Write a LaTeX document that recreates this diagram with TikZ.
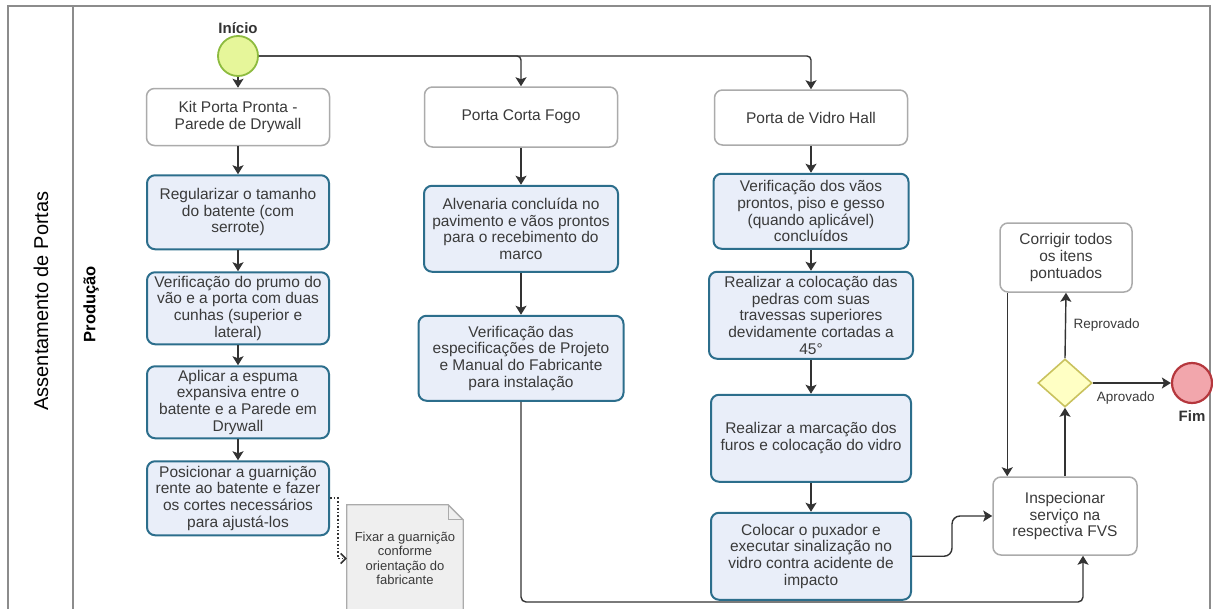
\documentclass[tikz,border=0pt]{standalone}
\usepackage{fontspec}
\setmainfont{Liberation Sans}
\usepackage{xcolor}
\usepackage{tikz}
\usetikzlibrary{arrows.meta,calc,positioning,shapes.geometric}
\definecolor{lanegray}{HTML}{8C8C8C}
\definecolor{flowgray}{HTML}{333333}
\definecolor{textgray}{HTML}{3A3A3A}
\definecolor{boxgray}{HTML}{ABABAB}
\definecolor{actblue}{HTML}{2C6E8C}
\definecolor{actfill}{HTML}{E9EEF9}
\definecolor{startline}{HTML}{8DBB3F}
\definecolor{startfill}{HTML}{E6F69A}
\definecolor{endline}{HTML}{B5373D}
\definecolor{endfill}{HTML}{F2A6AC}
\definecolor{gwline}{HTML}{C9C25E}
\definecolor{gwfill}{HTML}{FFFFC4}
\definecolor{notefill}{HTML}{EFEFEF}
\tikzset{
  flow/.style={-{Stealth[length=9pt,width=11pt,inset=2pt]},line width=1.4pt,draw=flowgray},
  assoc/.style={-{Straight Barb[length=5pt,width=10pt]},line width=1.6pt,dotted,draw=flowgray},
  laneline/.style={line width=1.5pt,draw=lanegray},
  bpmnnode/.style={draw,line width=1.5pt,rounded corners=8pt,align=center,
    inner sep=3pt,font=\fontsize{15.5}{16.7}\selectfont,text=textgray},
  doortype/.style={bpmnnode,draw=boxgray,fill=white},
  activity/.style={bpmnnode,draw=actblue,fill=actfill,line width=2pt},
  event/.style={circle,minimum size=40pt,inner sep=0pt,line width=1.8pt},
  startevent/.style={event,draw=startline,fill=startfill},
  endevent/.style={event,draw=endline,fill=endfill,line width=2.2pt},
  gateway/.style={diamond,draw=gwline,fill=gwfill,line width=1.6pt,
    minimum width=54pt,minimum height=48pt,inner sep=0pt},
  eventlabel/.style={font=\bfseries\fontsize{15}{16}\selectfont,text=flowgray},
  flowlabel/.style={font=\fontsize{13.5}{15}\selectfont,text=textgray},
  notesheet/.style={minimum width=116pt,minimum height=107pt,inner sep=0pt},
  notetext/.style={align=center,font=\fontsize{13}{14.4}\selectfont,text=textgray},
  pooltitle/.style={rotate=90,font=\fontsize{20}{21}\selectfont,text=black},
  lanetitle/.style={rotate=90,font=\bfseries\fontsize{16.5}{18}\selectfont,text=black}
}
\begin{document}
\begin{tikzpicture}[x=1pt,y=-1pt,node distance=21pt]
  \useasboundingbox (0,0) rectangle (1213,608);
  \draw[laneline] (8,612) -- (8,6) -- (1210,6) -- (1210,612);
  \draw[laneline] (73,6) -- (73,612);
  \node[pooltitle] (pool) at (41,301) {Assentamento de Portas};
  \node[lanetitle] (lane) at (91,304) {Produção};

  \node[startevent] (start) at (238,56) {};
  \node[eventlabel,above=-2pt of start] (startlbl) {Início};

  \node[doortype,minimum width=183pt,minimum height=57pt] (kit) at (238,117) {Kit Porta Pronta -\\Parede de Drywall};
  \node[activity,minimum width=182pt,minimum height=74pt,below=28pt of kit] (batente) {Regularizar o tamanho\\do batente (com\\serrote)};
  \node[activity,minimum width=182pt,minimum height=72pt,below=of batente] (prumo) {Verificação do prumo do\\vão e a porta com duas\\cunhas (superior e\\lateral)};
  \node[activity,minimum width=182pt,minimum height=72pt,below=20pt of prumo] (espuma) {Aplicar a espuma\\expansiva entre o\\batente e a Parede em\\Drywall};
  \node[activity,minimum width=182pt,minimum height=74pt,below=of espuma] (guarnicao) {Posicionar a guarnição\\rente ao batente e fazer\\os cortes necessários\\para ajustá-los};
  \node[notesheet] (nota) at (405,558.5) {};

  \node[doortype,minimum width=193pt,minimum height=60pt] (cortafogo) at (521,117) {Porta Corta Fogo};
  \node[activity,minimum width=194pt,minimum height=86pt,below=37pt of cortafogo] (alvenaria) {Alvenaria concluída no\\pavimento e vãos prontos\\para o recebimento do\\marco};
  \node[activity,minimum width=205pt,minimum height=85pt,below=42pt of alvenaria] (especif) {Verificação das\\especificações de Projeto\\e Manual do Fabricante\\para instalação};

  \node[doortype,minimum width=193pt,minimum height=55pt] (vidro) at (811,117.5) {Porta de Vidro Hall};
  \node[activity,minimum width=195pt,minimum height=75pt,below=27pt of vidro] (vaos) {Verificação dos vãos\\prontos, piso e gesso\\(quando aplicável)\\concluídos};
  \node[activity,minimum width=204pt,minimum height=87pt,below=of vaos] (pedras) {Realizar a colocação das\\pedras com suas\\travessas superiores\\devidamente cortadas a\\45°};
  \node[activity,minimum width=200pt,minimum height=87pt,below=34pt of pedras] (marcacao) {Realizar a marcação dos\\furos e colocação do vidro};
  \node[activity,minimum width=200pt,minimum height=87pt,below=29pt of marcacao] (puxador) {Colocar o puxador e\\executar sinalização no\\vidro contra acidente de\\impacto};

  \node[doortype,minimum width=144pt,minimum height=78pt] (inspecao) at (1065,516) {Inspecionar\\serviço na\\respectiva FVS};
  \node[gateway] (decisao) at (1065,383) {};
  \node[doortype,minimum width=132pt,minimum height=69pt] (corrigir) at (1066,257.5) {Corrigir todos\\os itens\\pontuados};
  \node[endevent] (fim) at (1192,383) {};
  \node[eventlabel,below=3pt of fim] (fimlbl) {Fim};

  \draw[notefill,fill=notefill] (nota.north west) -- ($(nota.north east)+(-15pt,0pt)$) -- ($(nota.north east)+(0pt,-15pt)$) -- (nota.south east) -- (nota.south west) -- cycle;
  \draw[boxgray,line width=1.3pt] (nota.south west) -- (nota.north west) -- ($(nota.north east)+(-15pt,0pt)$) -- ($(nota.north east)+(0pt,-15pt)$) -- (nota.south east);
  \draw[boxgray,line width=1.3pt] ($(nota.north east)+(-15pt,0pt)$) -- ($(nota.north east)+(-15pt,-15pt)$) -- ($(nota.north east)+(0pt,-15pt)$);
  \node[notetext] (notatexto) at (nota) {Fixar a guarnição\\conforme\\orientação do\\fabricante};

  \draw[flow] (start.south) -- (kit.north);
  \draw[flow,rounded corners=4pt] (start.east) -| (cortafogo.north);
  \draw[flow,rounded corners=4pt] (start.east) -| (vidro.north);
  \draw[flow] (kit.south) -- (batente.north);
  \draw[flow] (batente.south) -- (prumo.north);
  \draw[flow] (prumo.south) -- (espuma.north);
  \draw[flow] (espuma.south) -- (guarnicao.north);
  \draw[assoc] (guarnicao.east) -- ++(8,0) |- (nota.west);

  \draw[flow] (cortafogo.south) -- (alvenaria.north);
  \draw[flow] (alvenaria.south) -- (especif.north);
  \coordinate (retorno) at (1083,602);
  \draw[flow,rounded corners=5pt] (especif.south) |- (retorno) -- (retorno |- inspecao.south);

  \draw[flow] (vidro.south) -- (vaos.north);
  \draw[flow] (vaos.south) -- (pedras.north);
  \draw[flow] (pedras.south) -- (marcacao.north);
  \draw[flow] (marcacao.south) -- (puxador.north);
  \draw[flow,rounded corners=8pt] (puxador.east) -- ++(40,0) |- (inspecao.west);

  \draw[flow] (inspecao.north) -- (decisao.south);
  \draw[flow] (decisao.north) -- (corrigir.south) node[flowlabel,midway,right=4pt] (reprovado) {Reprovado};
  \draw[flow] (decisao.east) -- (fim.west) node[flowlabel,midway,below=5pt,xshift=-6pt] (aprovado) {Aprovado};
  \draw[flow] ($(corrigir.south west)+(8pt,0pt)$) -- ($(inspecao.north west)+(15pt,0pt)$);
\end{tikzpicture}
\end{document}
